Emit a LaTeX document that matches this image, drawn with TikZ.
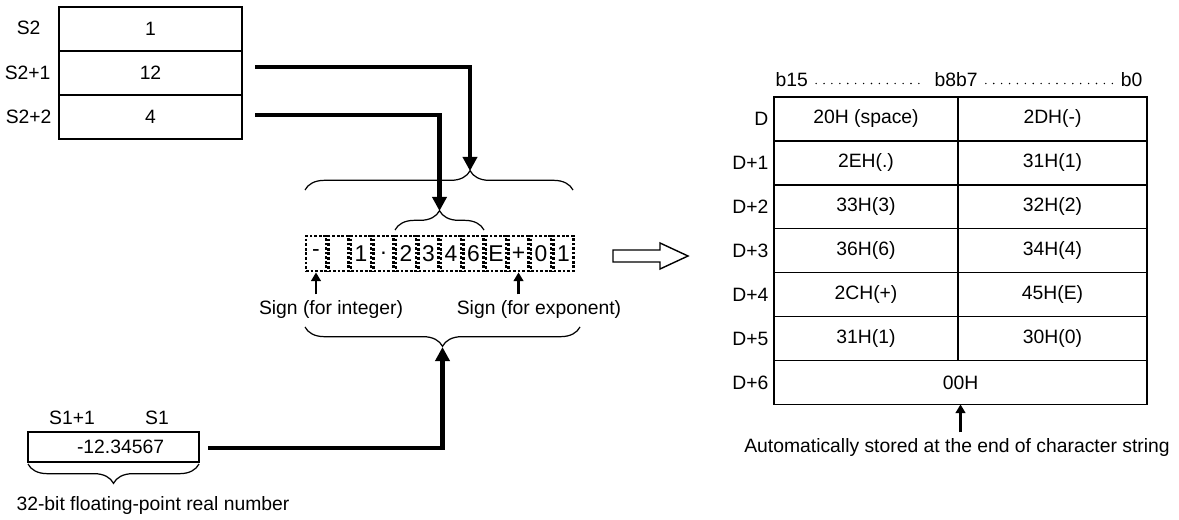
\documentclass[tikz,border=0pt]{standalone}
\usepackage{fontspec}
\setmainfont{Liberation Sans}
\usetikzlibrary{arrows.meta,positioning,decorations.pathreplacing}

\begin{document}
\begin{tikzpicture}[x=0.02cm, y=-0.02cm, line width=0.8pt, font=\fontsize{11}{13}\selectfont,
    cell/.style={draw, inner sep=0pt, outer sep=0pt, minimum height=0.88cm},
    chr/.style={draw, densely dotted, line width=1.6pt, inner sep=0pt, minimum width=0.4cm, minimum height=0.7cm,
        font=\fontsize{13}{14}\selectfont},
    feed/.style={line width=2.3pt, -{Triangle[length=8pt, width=8pt]}},
    sign/.style={line width=1.4pt, -{Triangle[length=5pt, width=5.5pt]}},
    brc/.style={decorate, decoration={brace, amplitude=11pt}, line width=0.7pt}]
    \useasboundingbox (0,0) rectangle (1179,520);

    % Source table S2
    \node[cell, minimum width=3.66cm] (s2a) at (150.5,29) {1};
    \node[cell, minimum width=3.66cm] (s2b) at (150.5,73) {12};
    \node[cell, minimum width=3.66cm] (s2c) at (150.5,117) {4};
    \node[anchor=east] at (47,28) {S2};
    \node[anchor=east] at (57,73) {S2+1};
    \node[anchor=east] at (58,117) {S2+2};

    % Source value S1
    \node[cell, minimum width=3.42cm, minimum height=0.6cm] (s1) at (113.5,447) {\hspace{8pt}-12.34567};
    \node at (72,418) {S1+1};
    \node at (157,418) {S1};
    \draw[brc] (199,464) -- (28,464);
    \node[anchor=west] at (10,505) {32-bit floating-point real number};

    % Character string
    \foreach \c [count=\i] in {-,{},1,.,2,3,4,6,E,+,0,1}
        \node[chr] (chr\i) at ({316+22.5*(\i-1)},253.5) {\c};

    % Braces
    \draw[brc, decoration={aspect=0.616}] (305,190) -- (573,190);
    \draw[brc] (395,230) -- (484,230);
    \draw[brc] (580,327) -- (305,327);
    \coordinate (topTip) at (470,171);
    \coordinate (midTip) at (439.5,211);
    \coordinate (botTip) at (442.5,347);

    % Feed lines
    \coordinate (s2bOut) at (255,67);
    \coordinate (s2cOut) at (255,115);
    \coordinate (s1Out) at (208,448);
    \draw[feed] (s2bOut) -| (topTip);
    \draw[feed] (s2cOut) -| (midTip);
    \draw[feed] (s1Out) -| (botTip);

    % Sign labels
    \node (signInt) at (331,310) {Sign (for integer)};
    \node (signExp) at (539,310) {Sign (for exponent)};
    \draw[sign] (chr1.south |- signInt.north) -- (chr1.south);
    \draw[sign] (chr10.south |- signExp.north) -- (chr10.south);

    % Hollow arrow
    \draw (613,250) -- (660,250) -- (660,243) -- (688,256) -- (660,269) -- (660,262) -- (613,262) -- cycle;

    % Destination table D
    \node[anchor=west] (b15) at (769,80) {b15};
    \node (b8b7) at (956,80) {b8b7};
    \node[anchor=east] (b0) at (1149,80) {b0};
    \draw[line width=0.9pt, line cap=round, dash pattern=on 0pt off 4.5pt, shorten <=1pt, shorten >=1pt]
        ([yshift=-2pt]b15.east) -- ([yshift=-2pt]b8b7.west);
    \draw[line width=0.9pt, line cap=round, dash pattern=on 0pt off 4.5pt, shorten <=1pt, shorten >=1pt]
        ([yshift=-2pt]b8b7.east) -- ([yshift=-2pt]b0.west);
    \foreach \l/\r [count=\i from 0] in {20H (space)/2DH(-), 2EH(.)/31H(1), 33H(3)/32H(2),
        36H(6)/34H(4), 2CH(+)/45H(E), 31H(1)/30H(0)} {
        \node[cell, minimum width=3.68cm] (dl\i) at (866,{97+43.9*(\i+0.5)}) {\l};
        \node[cell, minimum width=3.78cm] (dr\i) at (1052.5,{97+43.9*(\i+0.5)}) {\r};
    }
    \node[cell, minimum width=7.46cm] (d6) at (960.5,{97+43.9*6.5}) {00H};
    \foreach \lab [count=\i from 0] in {D,D+1,D+2,D+3,D+4,D+5,D+6}
        \node[anchor=east] at (775,{97+43.9*(\i+0.5)}) {\lab};
    \node (autoTxt) at (957,448) {Automatically stored at the end of character string};
    \draw[sign] (d6.south |- autoTxt.north) -- (d6.south);
\end{tikzpicture}
\end{document}
